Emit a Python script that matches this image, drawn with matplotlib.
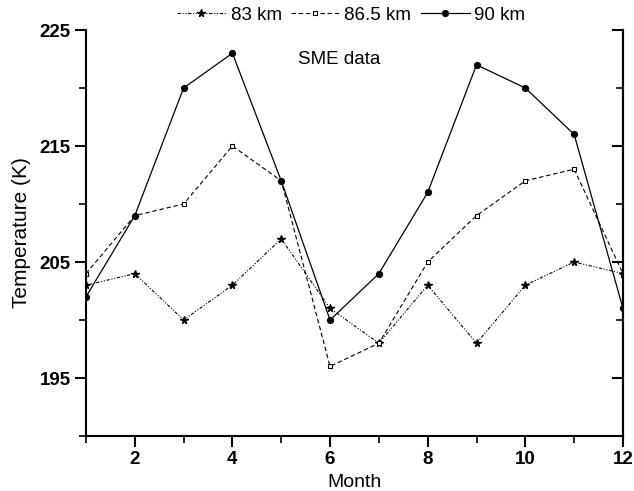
import matplotlib
matplotlib.use("Agg")
import matplotlib.pyplot as plt
from matplotlib.ticker import MultipleLocator, NullFormatter

plt.rcParams['font.family'] = ['Liberation Sans', 'DejaVu Sans']

months = [1, 2, 3, 4, 5, 6, 7, 8, 9, 10, 11, 12]
t_83 = [203, 204, 200, 203, 207, 201, 198, 203, 198, 203, 205, 204]
t_865 = [204, 209, 210, 215, 212, 196, 198, 205, 209, 212, 213, 204]
t_90 = [202, 209, 220, 223, 212, 200, 204, 211, 222, 220, 216, 201]
labels = ["83 km", "86.5 km", "90 km"]

fig = plt.figure(figsize=(6.34, 4.91), dpi=100)
ax = fig.add_axes([0.1356, 0.112, 0.8470, 0.8269])

ax.plot(months, t_83, color='black', lw=0.8, linestyle=(0, (3, 1.5, 1, 1.5, 1, 1.5)),
        marker='*', markersize=5.5, markerfacecolor='black', label=labels[0])
ax.plot(months, t_865, color='black', lw=0.8, linestyle=(0, (4, 2.5)),
        marker='s', markersize=3.5, markerfacecolor='white', markeredgewidth=0.8,
        label=labels[1])
ax.plot(months, t_90, color='black', lw=0.9, linestyle='-',
        marker='o', markersize=4.2, markerfacecolor='black', label=labels[2])

ax.set_xlim(1, 12)
ax.set_ylim(190, 225)
ax.xaxis.set_major_locator(MultipleLocator(2))
ax.xaxis.set_minor_locator(MultipleLocator(1))
ax.set_yticks([195, 205, 215, 225])
ax.yaxis.set_minor_locator(MultipleLocator(5))

ax.spines['top'].set_visible(False)
for s in ['left', 'bottom', 'right']:
    ax.spines[s].set_linewidth(1.5)

ax.tick_params(axis='both', which='major', direction='out', length=8, width=1.5,
               labelsize=13.5, pad=3)
ax.tick_params(axis='both', which='minor', direction='out', length=5, width=1.2)
for lab in ax.get_xticklabels() + ax.get_yticklabels():
    lab.set_fontweight('bold')

# right-hand axis carries inward ticks only
rax = ax.secondary_yaxis('right')
rax.set_yticks([195, 205, 215, 225])
rax.yaxis.set_minor_locator(MultipleLocator(5))
rax.yaxis.set_major_formatter(NullFormatter())
rax.tick_params(which='major', direction='in', length=8, width=1.5)
rax.tick_params(which='minor', direction='in', length=5, width=1.2)
rax.spines['right'].set_linewidth(1.5)

ax.set_xlabel("Month", fontsize=14, labelpad=4)
ax.set_ylabel("Temperature (K)", fontsize=15, labelpad=6)

ax.text(5.34, 222.5, "SME data", fontsize=13.5, ha='left', va='center')

fig.legend(loc='center', bbox_to_anchor=(0.554, 0.969), ncol=3, frameon=False,
           fontsize=13.5, handlelength=2.6, handletextpad=0.25, columnspacing=0.5)

fig.savefig("out.png", dpi=100)
